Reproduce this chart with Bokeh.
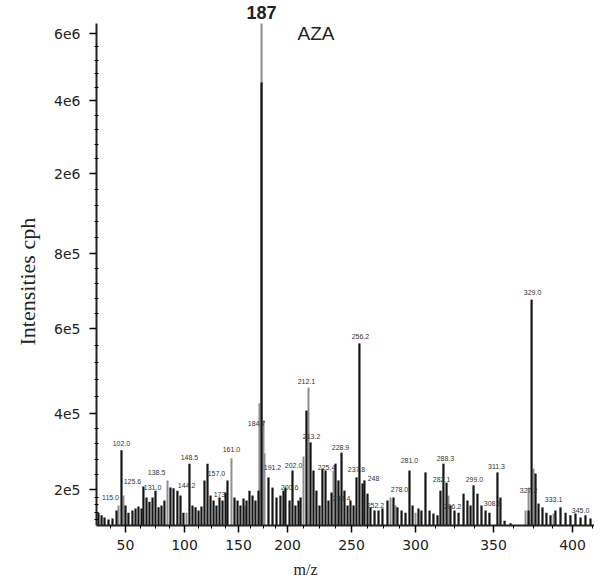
import numpy as np
from bokeh.plotting import figure
from bokeh.models import FixedTicker, Label, Range1d, Title
from bokeh.core.properties import value
from bokeh.embed import file_html
from bokeh.resources import INLINE

# ---------------- data ----------------
BASELINE = 1.05e5

BLACK_MZ = [27.1, 29.7, 32.2, 35.6, 39.0, 42.4, 46.6, 50.0, 52.5, 55.9,
            58.5, 61.0, 63.6, 65.2, 67.8, 70.3, 72.9, 75.4, 78.0, 80.5,
            83.0, 88.1, 90.7, 94.0, 96.6, 99.1, 104.6, 107.4, 110.2, 113.0,
            115.7, 118.5, 121.3, 124.1, 126.9, 129.6, 132.4, 135.2, 138.0, 139.8,
            146.3, 149.1, 152.0, 155.1, 158.2, 161.2, 164.3, 167.3, 170.4, 173.5,
            180.6, 184.7, 188.8, 192.8, 195.9, 197.9, 201.6, 203.9, 206.2, 208.6,
            210.2, 214.8, 218.0, 220.3, 222.6, 225.0, 227.3, 229.7, 232.0, 234.4,
            237.5, 239.8, 242.2, 244.5, 246.9, 249.2, 251.6, 253.9, 256.2, 258.6,
            260.1, 262.5, 264.8, 268.0, 271.1, 274.2, 278.1, 282.8, 285.9, 289.1,
            292.2, 295.3, 297.7, 301.9, 303.8, 306.4, 309.0, 311.5, 314.1, 316.0,
            317.9, 319.9, 322.4, 325.0, 327.6, 330.8, 333.3, 335.3, 337.2, 339.7,
            342.3, 344.9, 347.4, 352.5, 354.4, 357.0, 360.8, 372.2, 374.1, 376.6,
            378.5, 381.0, 383.5, 386.1, 389.2, 392.4, 395.6, 398.7, 401.9, 405.1,
            408.2, 411.4]
BLACK_INT = [1.39e5, 1.32e5, 1.26e5, 1.21e5, 1.24e5, 1.45e5, 3.03e5, 1.58e5, 1.39e5, 1.45e5,
             1.50e5, 1.55e5, 1.50e5, 2.08e5, 1.79e5, 1.68e5, 1.79e5, 1.97e5, 1.53e5, 1.58e5,
             1.71e5, 2.05e5, 2.03e5, 1.97e5, 1.84e5, 1.39e5, 2.68e5, 1.58e5, 1.53e5, 1.45e5,
             1.55e5, 2.24e5, 2.68e5, 1.84e5, 1.71e5, 1.58e5, 1.79e5, 1.71e5, 1.92e5, 2.24e5,
             1.79e5, 1.71e5, 1.58e5, 1.76e5, 1.71e5, 1.97e5, 1.84e5, 1.71e5, 1.97e5, 4.54e6,
             2.32e5, 2.05e5, 1.79e5, 1.84e5, 1.97e5, 2.05e5, 1.71e5, 2.50e5, 1.58e5, 1.71e5,
             1.79e5, 4.07e5, 3.24e5, 2.50e5, 1.97e5, 1.58e5, 2.55e5, 2.50e5, 1.71e5, 1.92e5,
             2.68e5, 2.24e5, 2.97e5, 1.97e5, 1.58e5, 1.71e5, 1.58e5, 2.32e5, 5.65e5, 2.16e5,
             2.24e5, 1.89e5, 1.53e5, 1.45e5, 1.45e5, 1.50e5, 1.71e5, 1.79e5, 1.53e5, 1.45e5,
             1.39e5, 2.50e5, 1.58e5, 1.50e5, 1.45e5, 2.45e5, 1.45e5, 1.37e5, 1.32e5, 1.97e5,
             2.68e5, 2.18e5, 1.58e5, 1.45e5, 1.39e5, 1.89e5, 1.71e5, 1.58e5, 2.11e5, 1.89e5,
             1.58e5, 1.45e5, 1.39e5, 2.45e5, 1.79e5, 1.18e5, 1.11e5, 1.45e5, 6.77e5, 2.42e5,
             1.63e5, 1.53e5, 1.39e5, 1.32e5, 1.45e5, 1.53e5, 1.39e5, 1.32e5, 1.37e5, 1.26e5,
             1.32e5, 1.24e5]

GRAY_MZ = [44.1, 48.3, 85.6, 101.9, 143.5, 157.1, 171.4, 173.5, 175.5, 176.5,
           212.5, 216.4, 235.9, 240.6, 280.5, 284.4, 300.0, 321.1, 370.3, 372.2,
           375.3, 388.0]
GRAY_INT = [1.58e5, 1.84e5, 2.24e5, 1.39e5, 2.82e5, 1.58e5, 4.24e5, 6.30e6, 3.82e5, 2.95e5,
            2.87e5, 4.61e5, 2.50e5, 1.84e5, 1.79e5, 1.58e5, 1.39e5, 1.84e5, 1.45e5, 2.05e5,
            2.55e5, 1.37e5]

PEAK_TEXT = ["115.0", "102.0", "125.6", "131.0", "138.5", "144.2", "148.5", "157.0", "161.0", "173",
             "184.7", "191.2", "200.6", "202.0", "212.1", "213.2", "225.4", "228.9", "237.8", "248",
             "256.2", "252.2", "233.4", "278.0", "281.0", "288.3", "282.1", "296.2", "299.0", "308.8",
             "311.3", "329.0", "327.2", "333.1", "345.0"]
PEAK_TEXT_MZ = [37.3, 46.6, 55.9, 72.9, 76.3, 101.9, 104.6, 129.6, 143.5, 132.4,
                168.4, 184.7, 201.6, 204.7, 214.8, 218.8, 230.5, 241.4, 253.9, 267.2,
                257.0, 268.7, 242.2, 287.5, 295.3, 319.2, 316.7, 323.7, 337.8, 349.4,
                351.9, 374.7, 372.2, 388.0, 405.1]
PEAK_TEXT_INT = [1.79e5, 3.21e5, 2.21e5, 2.05e5, 2.45e5, 2.11e5, 2.84e5, 2.42e5, 3.05e5, 1.87e5,
                 3.74e5, 2.58e5, 2.05e5, 2.63e5, 4.75e5, 3.40e5, 2.58e5, 3.10e5, 2.53e5, 2.29e5,
                 5.81e5, 1.58e5, 1.76e5, 2.00e5, 2.76e5, 2.82e5, 2.26e5, 1.55e5, 2.26e5, 1.63e5,
                 2.61e5, 6.96e5, 1.97e5, 1.74e5, 1.45e5]

MAIN_PEAK_MZ = 173.5
MAIN_PEAK_TEXT = "187"
MAIN_PEAK_INT = 6.30e6
COMPOUND = "AZA"
COMPOUND_MZ = 222.3
COMPOUND_INT = 5.79e6

X_TICKS = [50, 100, 150, 200, 250, 300, 350, 400]
X_TICK_LABELS = ["50", "100", "150", "200", "250", "300", "350", "400"]
Y_TICKS = [2e5, 4e5, 6e5, 8e5, 2e6, 4e6, 6e6]
Y_TICK_LABELS = ["2e5", "4e5", "6e5", "8e5", "2e6", "4e6", "6e6"]

# ------------- geometry of the original's non-uniform (broken) axes -------------
X_WARP_VAL = [0] + X_TICKS + [450]
X_WARP_POS = [-30, 29, 88, 142, 191, 255, 319, 397, 476, 555]
Y_WARP_VAL = [1e5] + Y_TICKS + [8e6]
Y_WARP_POS = [-2, 36, 112, 197, 272, 352, 425, 492, 559]
Y_AXIS_TOP = 502


def tx(v):
    return np.interp(np.asarray(v, dtype=float), X_WARP_VAL, X_WARP_POS)


def ty(v):
    return np.interp(np.asarray(v, dtype=float), Y_WARP_VAL, Y_WARP_POS)


p = figure(width=594, height=587, output_backend="svg", toolbar_location=None,
           x_range=Range1d(0, 498), y_range=Range1d(0, 525),
           min_border_left=96, min_border_right=0, min_border_top=0, min_border_bottom=62)
p.outline_line_color = None
p.grid.visible = False
p.background_fill_color = "white"
p.border_fill_color = "white"

gx = tx(GRAY_MZ)
p.segment(x0=gx, y0=[float(ty(BASELINE))] * len(gx), x1=gx, y1=ty(GRAY_INT),
          line_color="#8e8e8e", line_width=2)
bx = tx(BLACK_MZ)
p.segment(x0=bx, y0=[float(ty(BASELINE))] * len(bx), x1=bx, y1=ty(BLACK_INT),
          line_color="#151515", line_width=2.2)

p.text(x=tx(PEAK_TEXT_MZ), y=ty(PEAK_TEXT_INT), text=PEAK_TEXT,
       text_font=value("Liberation Sans"), text_font_size="7px",
       text_align="center", text_baseline="middle", text_color="#333333")

p.add_layout(Label(x=float(tx(MAIN_PEAK_MZ)), y=float(ty(MAIN_PEAK_INT)), text=MAIN_PEAK_TEXT,
                   text_font="Liberation Sans", text_font_size="18px", text_font_style="bold",
                   text_align="center", text_baseline="alphabetic", y_offset=11,
                   text_color="#222222"))
p.add_layout(Label(x=float(tx(COMPOUND_MZ)), y=float(ty(COMPOUND_INT)), text=COMPOUND,
                   text_font="Liberation Sans", text_font_size="19px", y_offset=7,
                   text_align="center", text_baseline="alphabetic", text_color="#222222"))

# x axis
xt = [float(v) for v in tx(X_TICKS)]
xminor = []
for a, b in zip(X_WARP_POS[:-1], X_WARP_POS[1:]):
    xminor += list(np.linspace(a, b, 5)[1:-1])
xa = p.xaxis[0]
xa.ticker = FixedTicker(ticks=xt, minor_ticks=[float(m) for m in xminor if 0 < m < 498])
xa.major_label_overrides = {t: s for t, s in zip(xt, X_TICK_LABELS)}
xa.axis_line_width = 2
xa.axis_line_color = "#222222"
xa.major_tick_out = 7
xa.major_tick_in = 0
xa.minor_tick_out = 3
xa.minor_tick_in = 0
xa.major_tick_line_width = 1.5
xa.major_label_standoff = 7
xa.major_label_text_font = "DejaVu Sans"
xa.major_label_text_font_size = "14px"
xa.major_label_text_color = "#222222"

# y axis
yt = [float(v) for v in ty(Y_TICKS)]
yminor = []
for a, b in zip(Y_WARP_POS[:-1], Y_WARP_POS[1:]):
    yminor += list(np.linspace(a, b, 6)[1:-1])
ya = p.yaxis[0]
ya.bounds = (0, Y_AXIS_TOP)
ya.ticker = FixedTicker(ticks=yt, minor_ticks=[float(m) for m in yminor if 0 < m < Y_AXIS_TOP])
ya.major_label_overrides = {t: s for t, s in zip(yt, Y_TICK_LABELS)}
ya.axis_line_width = 2
ya.axis_line_color = "#222222"
ya.major_tick_out = 7
ya.major_tick_in = 0
ya.minor_tick_out = 2
ya.minor_tick_in = 2
ya.major_tick_line_width = 1.5
ya.major_label_standoff = 9
ya.major_label_text_font = "DejaVu Sans"
ya.major_label_text_font_size = "14px"
ya.major_label_text_color = "#222222"

p.add_layout(Title(text="Intensities cph", align="left", offset=180,
                   text_font="Liberation Serif", text_font_style="normal",
                   text_font_size="22px", text_color="#222222", standoff=24), "left")
p.add_layout(Title(text="m/z", align="left", offset=197,
                   text_font="Liberation Serif", text_font_style="normal",
                   text_font_size="16px", text_color="#222222", standoff=12), "below")

open("out.html", "w").write(file_html(p, INLINE))
